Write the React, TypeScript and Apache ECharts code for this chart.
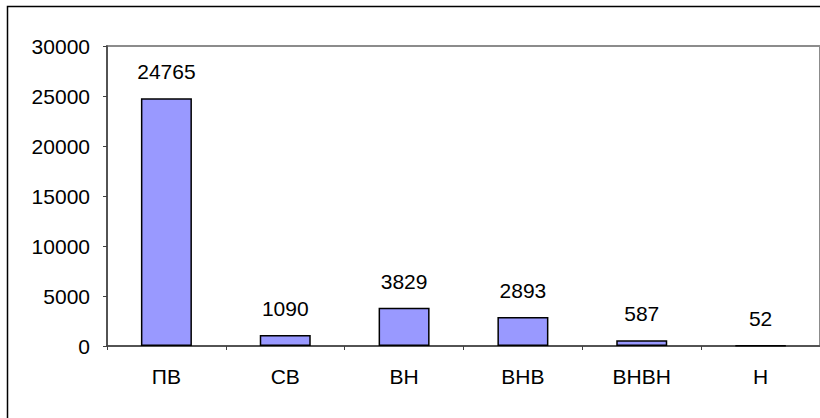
import React, { useEffect, useRef } from "react";
import * as echarts from "echarts";

const categories = ["ПВ", "СВ", "ВН", "ВНВ", "ВНВН", "Н"];
const values = [24765, 1090, 3829, 2893, 587, 52];
const yMin = 0;
const yMax = 30000;
const yInterval = 5000;

export default function App() {
  const ref = useRef<HTMLDivElement>(null);
  useEffect(() => {
    const chart = echarts.init(ref.current!, null, { renderer: "svg" });
    const font = "'Liberation Sans', Arial, sans-serif";
    chart.setOption({
      animation: false,
      backgroundColor: "#ffffff",
      grid: {
        left: 107,
        top: 46,
        right: -5,
        bottom: 72,
        show: true,
        borderColor: "#8c8c8c",
        borderWidth: 2,
        backgroundColor: "transparent",
      },
      xAxis: {
        type: "category",
        data: categories,
        boundaryGap: true,
        axisLine: { show: true, lineStyle: { color: "#404040", width: 1.5 } },
        axisTick: { show: true, alignWithLabel: false, length: 4, lineStyle: { color: "#404040", width: 1 } },
        axisLabel: { color: "#000", fontSize: 21, fontFamily: font, margin: 20 },
        splitLine: { show: false },
      },
      yAxis: {
        type: "value",
        min: yMin,
        max: yMax,
        interval: yInterval,
        axisLine: { show: true, lineStyle: { color: "#404040", width: 1.5 } },
        axisTick: { show: true, length: 4, lineStyle: { color: "#404040", width: 1 } },
        axisLabel: {
          color: "#000",
          fontSize: 21,
          fontFamily: font,
          margin: 17,
          formatter: (v: number) => String(v),
        },
        splitLine: { show: false },
      },
      series: [
        {
          type: "bar",
          data: values,
          barWidth: 51,
          itemStyle: { color: "#9999ff", borderColor: "#000", borderWidth: 1.5 },
          label: {
            show: true,
            position: "top",
            distance: 16,
            color: "#000",
            fontSize: 21,
            fontFamily: font,
          },
        },
      ],
      graphic: [
        {
          type: "rect",
          shape: { x: 7.5, y: 6.5, width: 900, height: 600 },
          style: { fill: "none", stroke: "#000", lineWidth: 1.5 },
          silent: true,
        },
      ],
    });
    return () => chart.dispose();
  }, []);
  return (
    <div
      ref={ref}
      style={{ position: "fixed", left: 0, top: 0, width: 820, height: 418 }}
    />
  );
}
